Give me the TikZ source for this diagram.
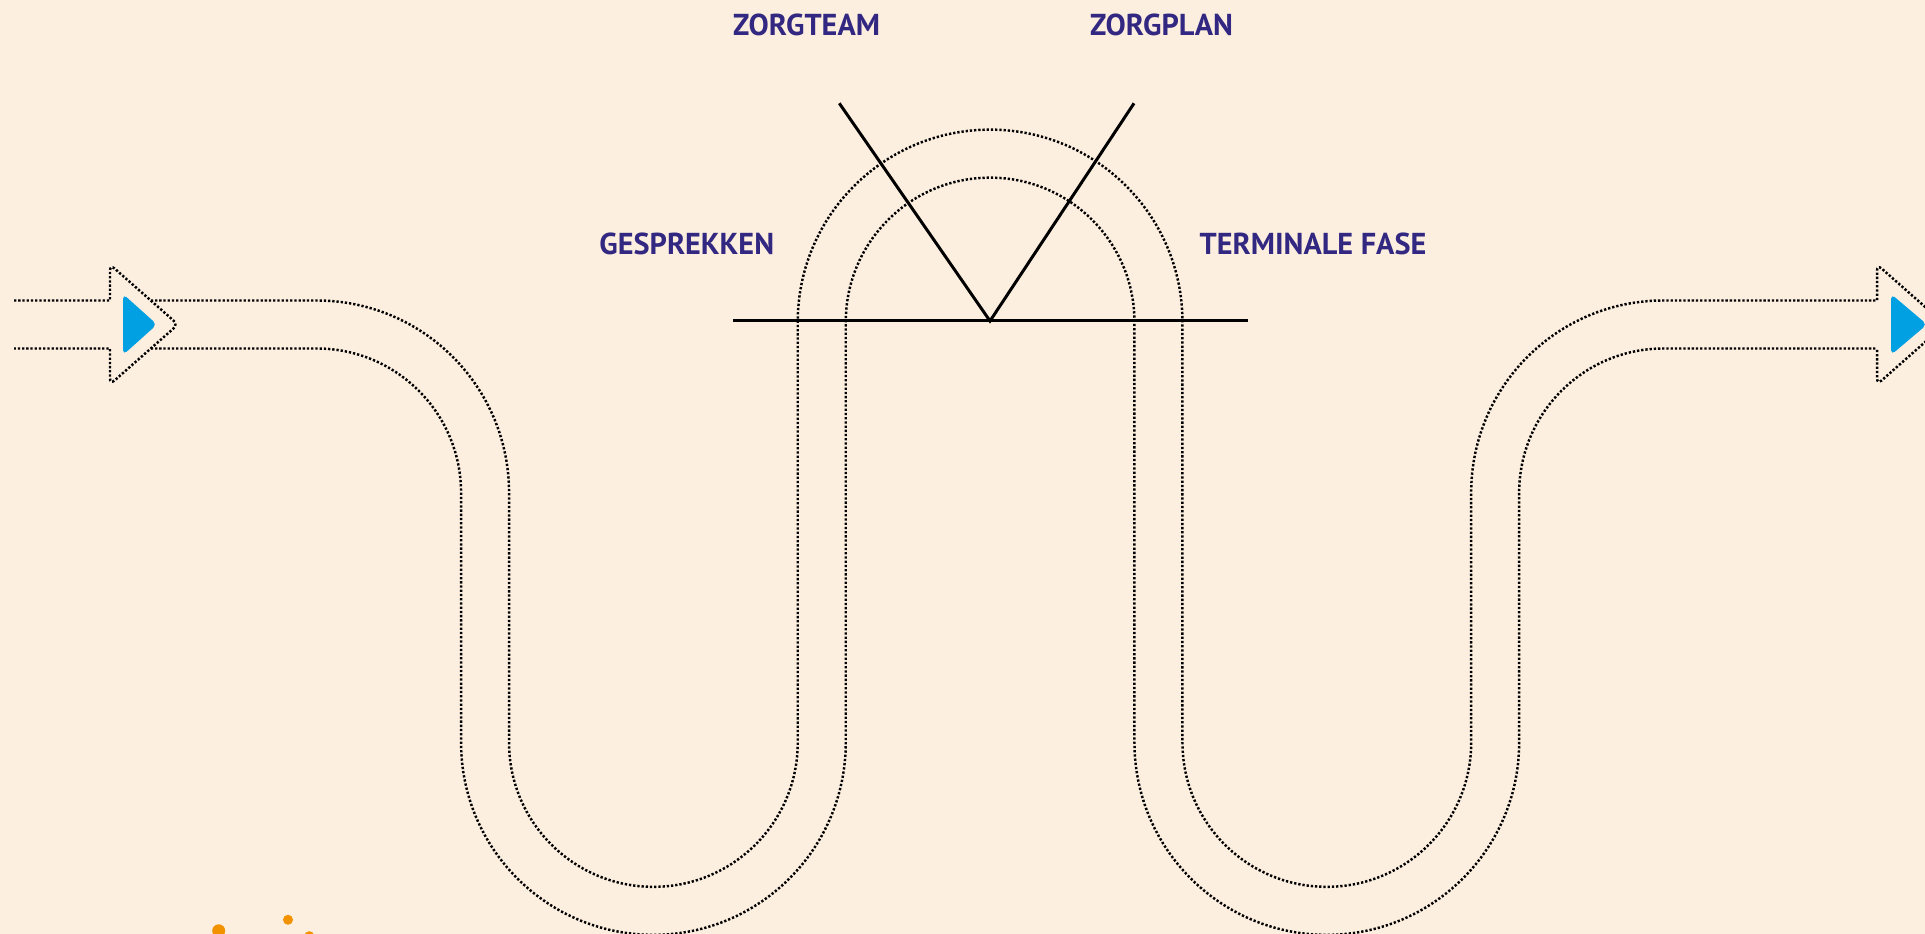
\documentclass[tikz,border=0pt]{standalone}
\usepackage{fontspec}
\newfontfamily\kopfont{PT Sans}
\usepackage{xcolor}
\definecolor{achtergrond}{RGB}{253,239,223}
\definecolor{zorgpaars}{RGB}{50,40,130}
\definecolor{pijlblauw}{RGB}{0,160,227}
\definecolor{oranje}{RGB}{243,146,0}
\begin{document}
\begin{tikzpicture}[
    x=0.01cm, y=0.01cm,
    spoor/.style={draw=black, line width=0.7pt, dash pattern=on 0.65pt off 0.55pt},
    spaak/.style={draw=black, line width=0.85pt},
    kop/.style={font=\kopfont\bfseries\fontsize{8.6pt}{10pt}\selectfont, text=zorgpaars, inner sep=0pt},
    punt/.style={fill=pijlblauw, rounded corners=0.05cm},
    stip/.style={circle, fill=oranje, inner sep=0pt}
]
    \useasboundingbox (0,0) rectangle (1925,934);
    \fill[achtergrond] (0,0) rectangle (1925,934);
    \clip (0,0) rectangle (1925,934);

    \draw[spoor] (14,633.5) -- (110,633.5) [rounded corners=0.06cm] -- (110,669.5) -- (178,609.5) -- (110,549.5) [sharp corners] -- (110,585.5) -- (14,585.5);
    \draw[spoor] (150.8,633.5) -- (316.7,633.5) arc (90:0:192.35) -- (509.05,191.5) arc (180:360:144.35) -- (797.75,612) arc (180:0:192.35) -- (1182.45,191.5) arc (180:360:144.35) -- (1471.15,441.15) arc (180:90:192.35) -- (1877,633.5) [rounded corners=0.06cm] -- (1877,669.5) -- (1945,609.5) -- (1877,549.5) [sharp corners] -- (1877,585.5);
    \draw[spoor] (150.8,585.5) -- (316.7,585.5) arc (90:0:144.35) -- (461.05,191.5) arc (180:360:192.35) -- (845.75,612) arc (180:0:144.35) -- (1134.45,191.5) arc (180:360:192.35) -- (1519.15,441.15) arc (180:90:144.35) -- (1877,585.5);

    \fill[punt] (123,640) -- (157,609.5) -- (123,579) -- cycle;
    \fill[punt] (1891,640) -- (1927,609.5) -- (1891,579) -- cycle;

    \coordinate (apex) at (990,613);
    \coordinate (teameinde) at (839.3,830.7);
    \coordinate (planeinde) at (1134,830.7);
    \coordinate (lijnlinks) at (733,613);
    \coordinate (lijnrechts) at (1248,613);
    \draw[spaak] (lijnlinks) -- (lijnrechts);
    \draw[spaak] (teameinde) -- (apex) -- (planeinde);

    \node[kop] (zorgteam) at (806.5,909) {ZORGTEAM};
    \node[kop] (zorgplan) at (1161.5,909) {ZORGPLAN};
    \node[kop] (gesprekken) at (686.8,690.5) {GESPREKKEN};
    \node[kop] (terminaal) at (1313,690.5) {TERMINALE FASE};

    \node[stip, minimum size=0.13cm] (stip1) at (218.7,3.2) {};
    \node[stip, minimum size=0.10cm] (stip2) at (288,14.2) {};
    \node[stip, minimum size=0.10cm] (stip3) at (309.3,-2.2) {};
\end{tikzpicture}
\end{document}
